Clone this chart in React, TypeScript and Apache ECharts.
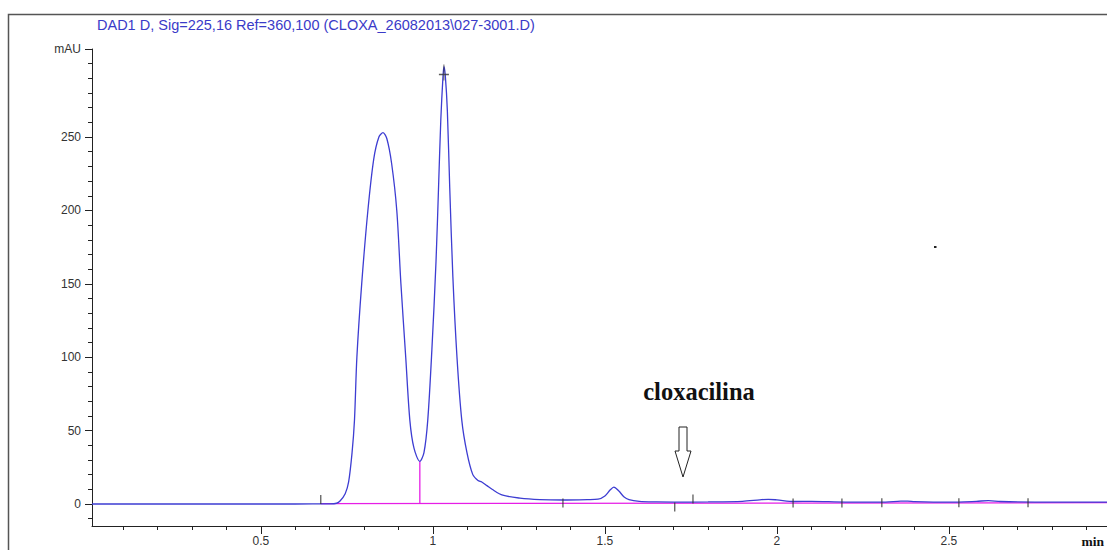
import React, { useEffect, useRef } from "react";
import * as echarts from "echarts";

// Chromatogram signal (retention time in min, absorbance in mAU)
const timeMin = [
  0.009, 0.3, 0.6, 0.7, 0.72, 0.73, 0.745, 0.755, 0.765, 0.772, 0.779, 0.793, 0.811, 0.828, 0.843,
  0.855, 0.866, 0.88, 0.895, 0.907, 0.921, 0.933, 0.945, 0.962, 0.974, 0.985, 0.997, 1.009, 1.017,
  1.023, 1.029, 1.032, 1.036, 1.042, 1.049, 1.058, 1.07, 1.084, 1.099, 1.116, 1.131, 1.142, 1.157,
  1.172, 1.203, 1.253, 1.311, 1.378, 1.45, 1.48, 1.5, 1.515, 1.526, 1.54, 1.555, 1.57, 1.6, 1.65,
  1.7, 1.8, 1.9, 1.95, 1.975, 2.0, 2.05, 2.1, 2.2, 2.3, 2.36, 2.38, 2.4, 2.5, 2.58, 2.615, 2.65,
  2.8, 3.06,
];
const signalMAU = [
  0, 0, 0, 0.1, 0.5, 2, 7, 15, 35, 57, 100, 150, 200, 235, 250,
  253, 249, 232, 200, 150, 100, 57, 38, 29, 35, 57, 105, 165, 220,
  262, 290, 298, 292, 268, 215, 155, 100, 57, 35, 20, 16, 15, 12.5,
  10, 6, 4, 3, 2.7, 3, 3.3, 5.5, 9.5, 11.5, 9, 5, 3, 1.8, 1.4,
  1.3, 1.4, 1.8, 2.8, 3.2, 2.8, 1.7, 1.8, 1.3, 1.3, 1.9, 2, 1.6, 1.2, 1.8, 2.3, 1.7,
  1.2, 1.2,
];

// Integration baseline and drop line (magenta)
const baselineT = [0.674, 3.06];
const baselineV = [0.3, 0.9];
const dropT = [0.962, 0.962];
const dropV = [0.3, 29];

// Integration event marks on the baseline
const eventT = [0.674, 1.378, 1.703, 1.756, 2.047, 2.189, 2.305, 2.529, 2.73];
const eventV = [0.3, 0.6, 0.6, 0.6, 0.7, 0.7, 0.8, 0.8, 0.9];
const eventSide = ["up", "mid", "down", "up", "mid", "mid", "mid", "mid", "mid"];

// Apex mark of the main peak
const apexT = [1.032];
const apexV = [294];

// Axes
const xMin = 0.009;
const xMax = 3.06;
const yMin = -15;
const yMax = 310;
const xMajorTicks = [0.5, 1, 1.5, 2, 2.5, 3];
const xLabels = [0.5, 1, 1.5, 2, 2.5];
const xMinor = [
  0.1, 0.2, 0.3, 0.4, 0.6, 0.7, 0.8, 0.9, 1.1, 1.2, 1.3, 1.4, 1.6, 1.7, 1.8, 1.9,
  2.1, 2.2, 2.3, 2.4, 2.6, 2.7, 2.8, 2.9,
];
const yMajor = [0, 50, 100, 150, 200, 250, 310];
const yMinor = [
  -10, 10, 20, 30, 40, 60, 70, 80, 90, 110, 120, 130, 140, 160, 170, 180, 190,
  210, 220, 230, 240, 260, 270, 280, 290, 300,
];
const yUnitLabel = "mAU";
const xUnitLabel = "min";

const titleText = "DAD1 D, Sig=225,16 Ref=360,100 (CLOXA_26082013\\027-3001.D)";
const annotationText = "cloxacilina";

const SANS = "'Liberation Sans', Arial, sans-serif";
const SERIF = "'Liberation Serif', 'Times New Roman', serif";

const CHART_W = 1150;

export default function App() {
  const ref = useRef<HTMLDivElement>(null);

  useEffect(() => {
    if (!ref.current) return;
    const chart = echarts.init(ref.current, undefined, { renderer: "svg" });

    const curve = timeMin.map((t, i) => [t, signalMAU[i]]);
    const base = baselineT.map((t, i) => [t, baselineV[i]]);
    const drop = dropT.map((t, i) => [t, dropV[i]]);
    const events = eventT.map((t, i) => ({
      value: [t, eventV[i]],
      symbolOffset: [0, eventSide[i] === "up" ? -4 : eventSide[i] === "down" ? 4 : 0],
    }));
    const apex = apexT.map((t, i) => [t, apexV[i]]);

    const axisColor = "#222";
    const gridLeft = 92;
    const pxPerMin = 344;
    const gridRight = CHART_W - gridLeft - (xMax - xMin) * pxPerMin;

    chart.setOption({
      animation: false,
      backgroundColor: "#ffffff",
      title: {
        text: titleText,
        left: 92,
        top: 12,
        textStyle: { color: "#3a3ac8", fontSize: 14.5, fontWeight: "normal", fontFamily: SANS },
      },
      grid: { left: gridLeft, right: gridRight, top: 49, bottom: 24, containLabel: false },
      xAxis: [
        {
          type: "value",
          min: xMin,
          max: xMax,
          position: "bottom",
          axisLine: { show: true, onZero: false, lineStyle: { color: axisColor, width: 1 } },
          axisTick: { show: true, customValues: xMajorTicks, length: 8, lineStyle: { color: axisColor } },
          axisLabel: {
            customValues: xLabels,
            formatter: (v: number) => String(v),
            color: "#333",
            fontSize: 12,
            fontFamily: SANS,
            margin: 9,
          },
          splitLine: { show: false },
        },
        {
          type: "value",
          min: xMin,
          max: xMax,
          position: "bottom",
          axisLine: { show: false, onZero: false },
          axisTick: { show: true, customValues: xMinor, length: 4, lineStyle: { color: axisColor } },
          axisLabel: { show: false },
          splitLine: { show: false },
        },
      ],
      yAxis: [
        {
          type: "value",
          min: yMin,
          max: yMax,
          position: "left",
          axisLine: { show: true, onZero: false, lineStyle: { color: axisColor, width: 1 } },
          axisTick: { show: true, customValues: yMajor, length: 7, lineStyle: { color: axisColor } },
          axisLabel: {
            customValues: yMajor,
            formatter: (v: number) => (v === yMax ? yUnitLabel : String(v)),
            color: "#333",
            fontSize: 12,
            fontFamily: SANS,
            margin: 11,
          },
          splitLine: { show: false },
        },
        {
          type: "value",
          min: yMin,
          max: yMax,
          position: "left",
          axisLine: { show: false, onZero: false },
          axisTick: { show: true, customValues: yMinor, length: 4, lineStyle: { color: axisColor } },
          axisLabel: { show: false },
          splitLine: { show: false },
        },
      ],
      series: [
        {
          type: "line",
          data: base,
          xAxisIndex: 0,
          yAxisIndex: 0,
          symbol: "none",
          lineStyle: { color: "#e61ee6", width: 1.3 },
          z: 2,
        },
        {
          type: "line",
          data: drop,
          xAxisIndex: 0,
          yAxisIndex: 0,
          symbol: "none",
          lineStyle: { color: "#e61ee6", width: 1.3 },
          z: 2,
        },
        {
          type: "line",
          data: curve,
          xAxisIndex: 0,
          yAxisIndex: 0,
          symbol: "none",
          smooth: 0.3,
          lineStyle: { color: "#3d3dd2", width: 1.3 },
          z: 3,
        },
        {
          type: "scatter",
          data: events,
          xAxisIndex: 0,
          yAxisIndex: 0,
          symbol: "rect",
          symbolSize: [1.3, 9],
          itemStyle: { color: "#333" },
          z: 4,
        },
        {
          type: "scatter",
          data: apex,
          xAxisIndex: 0,
          yAxisIndex: 0,
          symbol: "path://M5,0 L5,16 M0,10 L10,10",
          symbolSize: [10, 16],
          itemStyle: { color: "transparent", borderColor: "#333", borderWidth: 1.2 },
          z: 4,
        },
      ],
      graphic: [
        {
          type: "rect",
          shape: { x: 8.5, y: 14.5, width: 1300, height: 700 },
          style: { fill: "none", stroke: "#555", lineWidth: 1.5 },
          silent: true,
          z: 0,
        },
        {
          type: "text",
          x: 699,
          y: 391,
          style: {
            text: annotationText,
            font: `bold 24.5px ${SERIF}`,
            fill: "#111",
            textAlign: "center",
            textVerticalAlign: "middle",
          },
        },
        {
          type: "polygon",
          shape: {
            points: [
              [679, 427], [687, 427], [687, 451], [691, 451], [683, 477], [675, 451], [679, 451],
            ],
          },
          style: { fill: "#fff", stroke: "#222", lineWidth: 1 },
        },
        {
          type: "text",
          x: 1104,
          y: 541,
          style: {
            text: xUnitLabel,
            font: `bold 13.5px ${SERIF}`,
            fill: "#111",
            textAlign: "right",
            textVerticalAlign: "middle",
          },
        },
        {
          type: "rect",
          shape: { x: 934, y: 246, width: 2.5, height: 2 },
          style: { fill: "#222" },
        },
      ],
    });

    return () => chart.dispose();
  }, []);

  return (
    <div
      style={{
        position: "fixed",
        left: 0,
        top: 0,
        width: 1107,
        height: 550,
        overflow: "hidden",
        background: "#fff",
      }}
    >
      <div ref={ref} style={{ width: CHART_W, height: 550 }} />
    </div>
  );
}
